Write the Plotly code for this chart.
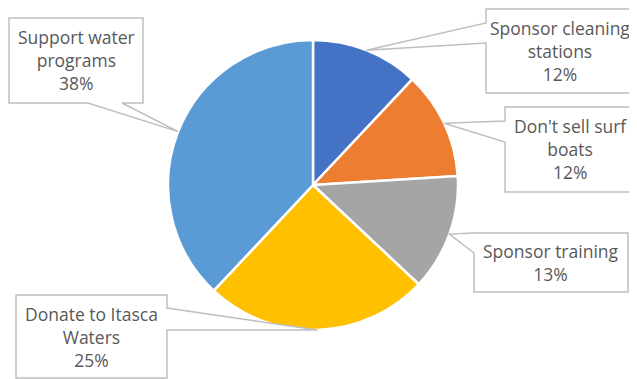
import math
import plotly.graph_objects as go

labels = ["Sponsor cleaning stations", "Don't sell surf boats", "Sponsor training",
          "Donate to Itasca Waters", "Support water programs"]
values = [12, 12, 13, 25, 38]
colors = ["#4472C4", "#ED7D31", "#A5A5A5", "#FFC000", "#5B9BD5"]
label_text = ["Sponsor cleaning<br>stations<br>12%", "Don't sell surf<br>boats<br>12%",
              "Sponsor training<br>13%", "Donate to Itasca<br>Waters<br>25%",
              "Support water<br>programs<br>38%"]

W, H = 637, 379
OFF = 8  # default page body margin
FW, FH = W - OFF, H - OFF
CX, CY, R = 313, 185, 145

# callout boxes (x0, y0, x1, y1) in page pixels, tail side, tail base offsets
boxes = [
    ((486, 9, 634, 93), "left", (23, 43)),
    ((505, 107, 635, 192), "left", (121, 142)),
    ((474, 233, 628, 292), "left", (233, 253)),
    ((16, 295, 167, 378), "right", (308, 330)),
    ((9, 18, 143, 103), "bottom", (88, 122)),
]

def px(x):
    return (x - OFF) / FW

def py(y):
    return 1 - (y - OFF) / FH

fig = go.Figure(go.Pie(
    labels=labels, values=values, sort=False, direction="clockwise", rotation=0,
    marker=dict(colors=colors, line=dict(color="white", width=2.5)),
    textinfo="none", hoverinfo="label+percent",
    domain=dict(x=[px(CX - R), px(CX + R)], y=[py(CY + R), py(CY - R)]),
    showlegend=False,
))

total = sum(values)
cum = 0
shapes = []
annotations = []
for v, txt, (box, side, base) in zip(values, label_text, boxes):
    mid = (cum + v / 2) / total * 2 * math.pi
    cum += v
    tx = CX + R * math.sin(mid)
    ty = CY - R * math.cos(mid)
    x0, y0, x1, y1 = box
    if side == "left":
        pts = [(x0, y0), (x1, y0), (x1, y1), (x0, y1), (x0, base[1]), (tx, ty), (x0, base[0])]
    elif side == "right":
        pts = [(x0, y0), (x1, y0), (x1, base[0]), (tx, ty), (x1, base[1]), (x1, y1), (x0, y1)]
    else:
        pts = [(x0, y0), (x1, y0), (x1, y1), (base[1], y1), (tx, ty), (base[0], y1), (x0, y1)]
    path = "M " + " L ".join(f"{px(a):.5f},{py(b):.5f}" for a, b in pts) + " Z"
    shapes.append(dict(type="path", path=path, xref="paper", yref="paper",
                       line=dict(color="#BFBFBF", width=1.5), fillcolor="white", layer="above"))
    annotations.append(dict(x=px((x0 + x1) / 2), y=py((y0 + y1) / 2), xref="paper", yref="paper",
                            text=txt, showarrow=False, xanchor="center", yanchor="middle",
                            font=dict(family="Open Sans", size=17.5, color="#595959")))

fig.update_layout(
    width=FW, height=FH, margin=dict(l=0, r=0, t=0, b=0),
    paper_bgcolor="white", plot_bgcolor="white",
    shapes=shapes, annotations=annotations,
)
fig.write_html("out.html")
